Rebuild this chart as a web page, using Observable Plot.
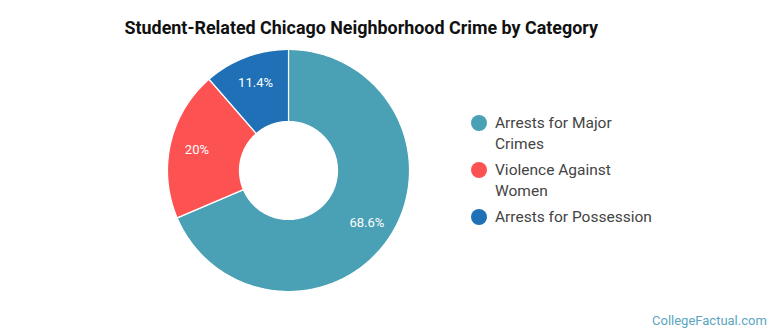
<!DOCTYPE html>
<html>
<head>
<meta charset="utf-8">
<script src="https://cdn.jsdelivr.net/npm/d3@7"></script>
<script src="https://cdn.jsdelivr.net/npm/@observablehq/plot@0.6"></script>
<style>
  html, body { margin: 0; padding: 0; background: #fff; }
  #wrap { position: relative; width: 770px; height: 335px; overflow: hidden; font-family: Roboto, sans-serif; }
  #title { position: absolute; left: 124.5px; top: 19px; font-size: 17.9px; line-height: 18px; font-weight: 700; color: #111; white-space: nowrap; }
  #chart { position: absolute; left: 0; top: 0; }
  #legend { position: absolute; left: 471px; top: 112.5px; }
  .item { position: relative; padding-left: 24px; width: 165px; font-size: 15.5px; line-height: 21px; color: #444; margin-bottom: 5px; }
  .sw { position: absolute; left: 0; top: 2.5px; width: 16px; height: 16px; border-radius: 50%; }
  #footer { position: absolute; left: 652px; top: 313px; font-size: 13px; color: #5aa6bf; white-space: nowrap; }
</style>
</head>
<body>
<div id="wrap">
  <div id="chart"></div>
  <div id="title"></div>
  <div id="legend"></div>
  <div id="footer">CollegeFactual.com</div>
</div>
<script>
const title = "Student-Related Chicago Neighborhood Crime by Category";
const categories = ["Arrests for Major Crimes", "Violence Against Women", "Arrests for Possession"];
const values = [68.6, 20, 11.4];
const valueLabels = ["68.6%", "20%", "11.4%"];
const colors = ["#4aa0b5", "#fd5252", "#1f70b7"];

const innerRatio = 49 / 121;
const labelRatio = 94 / 121;

const total = d3.sum(values);
const slices = [];
const labelPts = [];
let acc = 0;
values.forEach((v, i) => {
  const a0 = acc / total * 2 * Math.PI;
  acc += v;
  const a1 = acc / total * 2 * Math.PI;
  const n = Math.max(2, Math.ceil((a1 - a0) / (Math.PI / 180)));
  for (let k = 0; k <= n; k++) {
    const a = a0 + (a1 - a0) * k / n;
    slices.push({cat: categories[i], x: Math.sin(a), y: Math.cos(a)});
  }
  for (let k = n; k >= 0; k--) {
    const a = a0 + (a1 - a0) * k / n;
    slices.push({cat: categories[i], x: innerRatio * Math.sin(a), y: innerRatio * Math.cos(a)});
  }
  const m = (a0 + a1) / 2;
  labelPts.push({cat: categories[i], label: valueLabels[i], x: labelRatio * Math.sin(m), y: labelRatio * Math.cos(m)});
});

const cx = 288, cy = 170, R = 121;
const plot = Plot.plot({
  width: 770,
  height: 335,
  margin: 0,
  style: {fontFamily: "Roboto, sans-serif", background: "transparent"},
  x: {domain: [-1, 1], range: [cx - R, cx + R], axis: null},
  y: {domain: [-1, 1], range: [cy + R, cy - R], axis: null},
  color: {domain: categories, range: colors},
  marks: [
    Plot.line(slices, {x: "x", y: "y", z: "cat", fill: "cat", stroke: "white", strokeWidth: 1.2, curve: "linear-closed", strokeLinejoin: "round"}),
    Plot.text(labelPts, {x: "x", y: "y", text: "label", fill: "white", fontSize: 13})
  ]
});
document.getElementById("chart").appendChild(plot);
document.getElementById("title").textContent = title;

const legend = document.getElementById("legend");
categories.forEach((c, i) => {
  const it = document.createElement("div");
  it.className = "item";
  const sw = document.createElement("span");
  sw.className = "sw";
  sw.style.background = colors[i];
  it.appendChild(sw);
  it.appendChild(document.createTextNode(c));
  legend.appendChild(it);
});
</script>
</body>
</html>
